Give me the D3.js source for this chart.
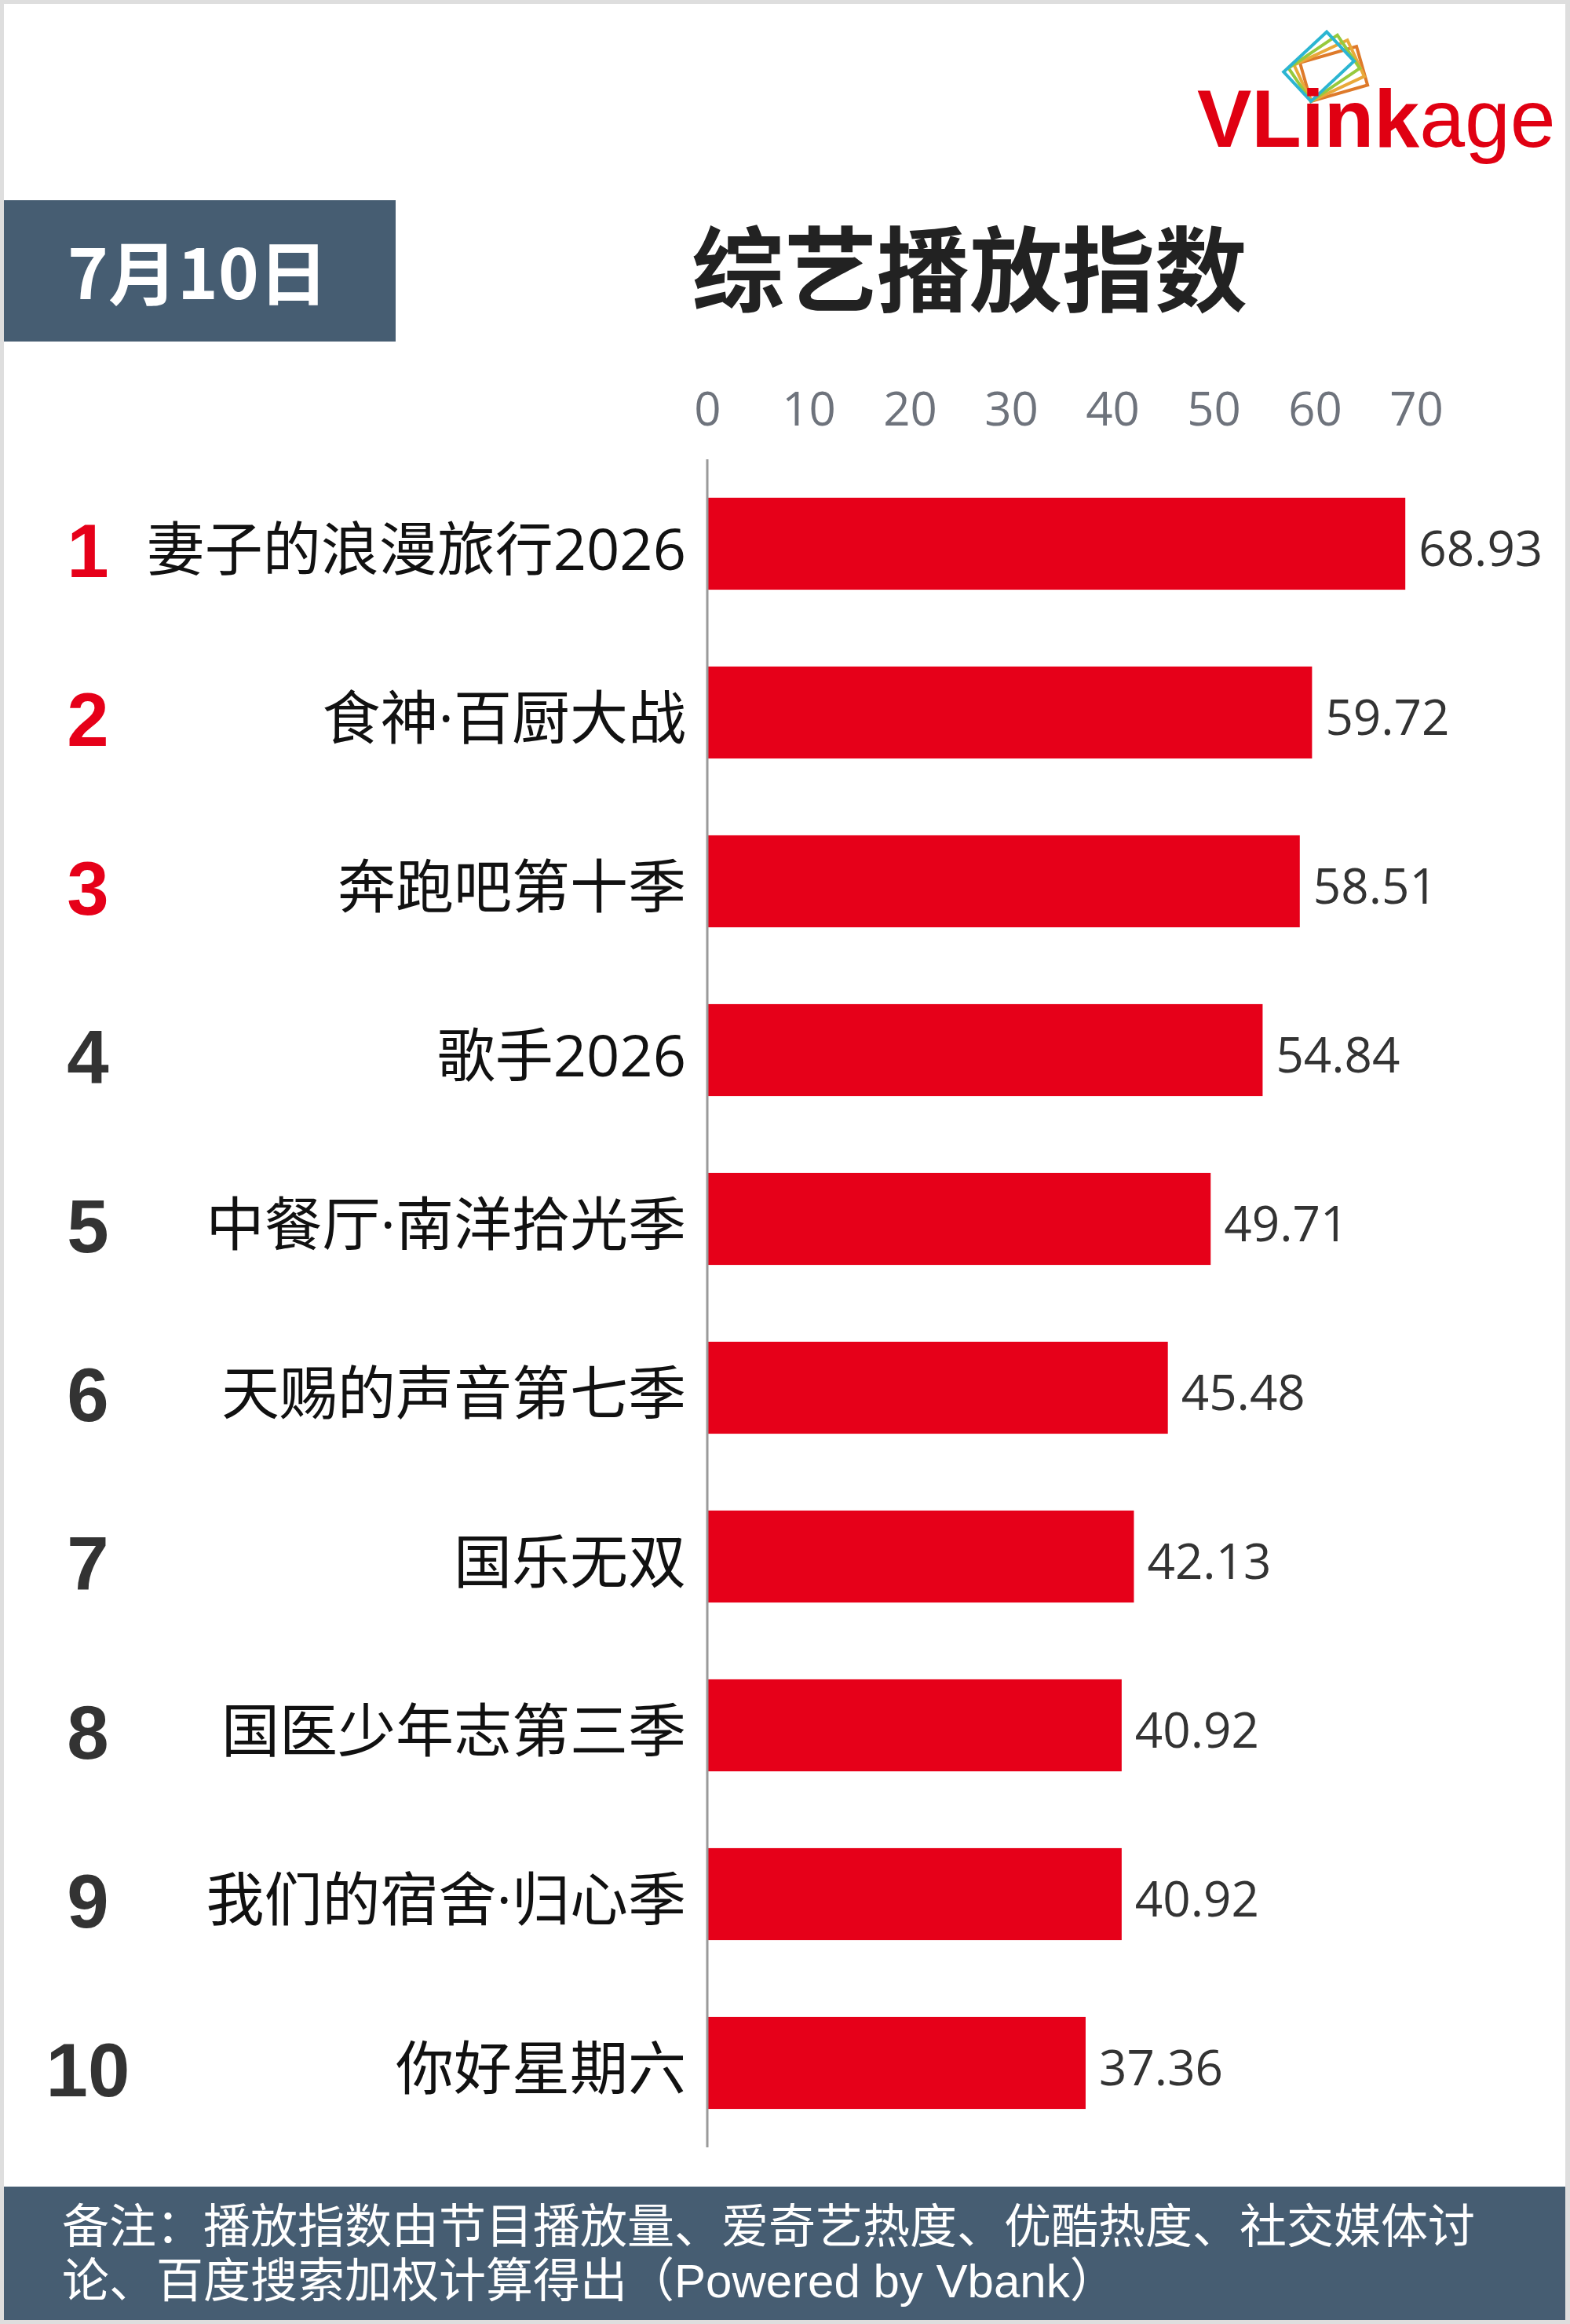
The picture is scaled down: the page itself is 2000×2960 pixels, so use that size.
<!DOCTYPE html>
<html>
<head>
<meta charset="utf-8">
<script src="https://cdn.jsdelivr.net/npm/d3@7"></script>
<style>
  body { margin: 0; background: #dedede; }
  #chart { position: relative; width: 2000px; height: 2960px; }
  svg { display: block; }
  .note {
    position: absolute; left: 79px; top: 2802px;
    font-family: "Liberation Sans", "Noto Sans CJK SC", sans-serif;
    font-size: 60px; line-height: 69px; color: #fff;
    white-space: nowrap;
  }
</style>
</head>
<body>
<div id="chart"></div>
<script>

let ranks = ['1', '2', '3', '4', '5', '6', '7', '8', '9', '10'];
let shows = ['妻子的浪漫旅行2026', '食神·百厨大战', '奔跑吧第十季', '歌手2026', '中餐厅·南洋拾光季',
             '天赐的声音第七季', '国乐无双', '国医少年志第三季', '我们的宿舍·归心季', '你好星期六'];
let values = [68.93, 59.72, 58.51, 54.84, 49.71, 45.48, 42.13, 40.92, 40.92, 37.36];
let ticks = [0, 10, 20, 30, 40, 50, 60, 70];

let dateLabel = '7月10日';
let title = '综艺播放指数';
let noteLines = ['备注：播放指数由节目播放量、爱奇艺热度、优酷热度、社交媒体讨',
                 '论、百度搜索加权计算得出（Powered by Vbank）'];

let W = 2000, H = 2960;
let slate = '#465d72', red = '#e60019';
let cjk = '"Noto Sans CJK SC", "Noto Sans", sans-serif';
let latin = '"Open Sans", "Noto Sans", sans-serif';
// latin glyphs (digits, middle dot) from Open Sans, the rest falls back to CJK
let mixed = '"Open Sans", "Noto Sans CJK SC", sans-serif';

let chart = d3.select('#chart');
let svg = chart.append('svg')
  .attr('width', W).attr('height', H);

// frame
svg.append('rect').attr('width', W).attr('height', H).attr('fill', '#dedede');
svg.append('rect')
  .attr('x', 5).attr('y', 5).attr('width', 1989).attr('height', 2950)
  .attr('fill', '#fff');

// date tag
svg.append('rect')
  .attr('x', 5).attr('y', 255).attr('width', 499).attr('height', 180)
  .attr('fill', slate);
svg.append('text')
  .attr('x', 252).attr('y', 381)
  .attr('text-anchor', 'middle')
  .attr('font-family', cjk).attr('font-weight', 700).attr('font-size', 88)
  .attr('fill', '#fff')
  .text(dateLabel);

svg.append('text')
  .attr('x', 1235).attr('y', 388)
  .attr('text-anchor', 'middle')
  .attr('font-family', cjk).attr('font-weight', 700).attr('font-size', 118)
  .attr('fill', '#222')
  .text(title);

// logo
let logo = svg.append('g');
let frames = [
  {angle: -16, color: '#de7a2a'},
  {angle: -25, color: '#e9a93a'},
  {angle: -34, color: '#97c93d'},
  {angle: -43, color: '#2bb5d2'}
];
logo.selectAll('.frame')
  .data(frames)
  .enter().append('rect')
    .attr('class', 'frame')
    .attr('x', 0).attr('y', -51).attr('width', 75).attr('height', 51)
    .attr('transform', d => 'translate(1670,129) rotate(' + d.angle + ')')
    .attr('fill', 'none')
    .attr('stroke', d => d.color)
    .attr('stroke-width', 4);

let logoText = logo.append('text')
  .attr('x', 1525).attr('y', 187)
  .attr('font-family', '"Liberation Sans", Arial, sans-serif')
  .attr('font-size', 104)
  .attr('fill', '#e00012');
logoText.append('tspan').attr('font-weight', 700).text('VLink');
logoText.append('tspan').attr('font-weight', 400).text('age');

// scales
let x = d3.scaleLinear().domain([0, 70]).range([901, 1804]);
let y = d3.scaleBand().domain(ranks).range([585, 2735])
  .paddingInner(0.455).paddingOuter(0.2275);

let xAxis = d3.axisTop(x).tickValues(ticks).tickSize(0).tickPadding(0);
let gx = svg.append('g')
  .attr('transform', 'translate(0,542)')
  .call(xAxis);
gx.select('.domain').remove();
gx.selectAll('text')
  .attr('font-family', latin)
  .attr('font-size', 60)
  .attr('fill', '#6e737c');

svg.append('g')
  .selectAll('rect')
  .data(values)
  .enter().append('rect')
    .attr('x', x(0))
    .attr('y', (d, i) => y(ranks[i]))
    .attr('width', d => x(d) - x(0))
    .attr('height', y.bandwidth())
    .attr('fill', red);

svg.append('line')
  .attr('x1', x(0)).attr('x2', x(0))
  .attr('y1', 585).attr('y2', 2735)
  .attr('stroke', '#9a9a9a').attr('stroke-width', 3);

let mid = r => y(r) + y.bandwidth() / 2;

svg.append('g')
  .selectAll('text')
  .data(values)
  .enter().append('text')
    .attr('x', d => x(d) + 17)
    .attr('y', (d, i) => mid(ranks[i]) + 28)
    .attr('font-family', latin)
    .attr('font-size', 62)
    .attr('fill', '#333')
    .text(d => d3.format('.2f')(d));

svg.append('g')
  .selectAll('text')
  .data(shows)
  .enter().append('text')
    .attr('x', 874)
    .attr('y', (d, i) => mid(ranks[i]) + 33)
    .attr('text-anchor', 'end')
    .attr('font-family', mixed)
    .attr('font-size', 74)
    .attr('fill', '#111')
    .text(d => d);

svg.append('g')
  .selectAll('text')
  .data(ranks)
  .enter().append('text')
    .attr('x', 112)
    .attr('y', d => mid(d) + 42)
    .attr('text-anchor', 'middle')
    .attr('font-family', '"Liberation Sans", Arial, sans-serif')
    .attr('font-weight', 700)
    .attr('font-size', 96)
    .attr('fill', (d, i) => i < 3 ? red : '#333')
    .text(d => d);

// note band, text as one wrapped block
svg.append('rect')
  .attr('x', 5).attr('y', 2785).attr('width', 1989).attr('height', 170)
  .attr('fill', slate);
chart.append('div')
  .attr('class', 'note')
  .html(noteLines.join('<br>'));

</script>
</body>
</html>
